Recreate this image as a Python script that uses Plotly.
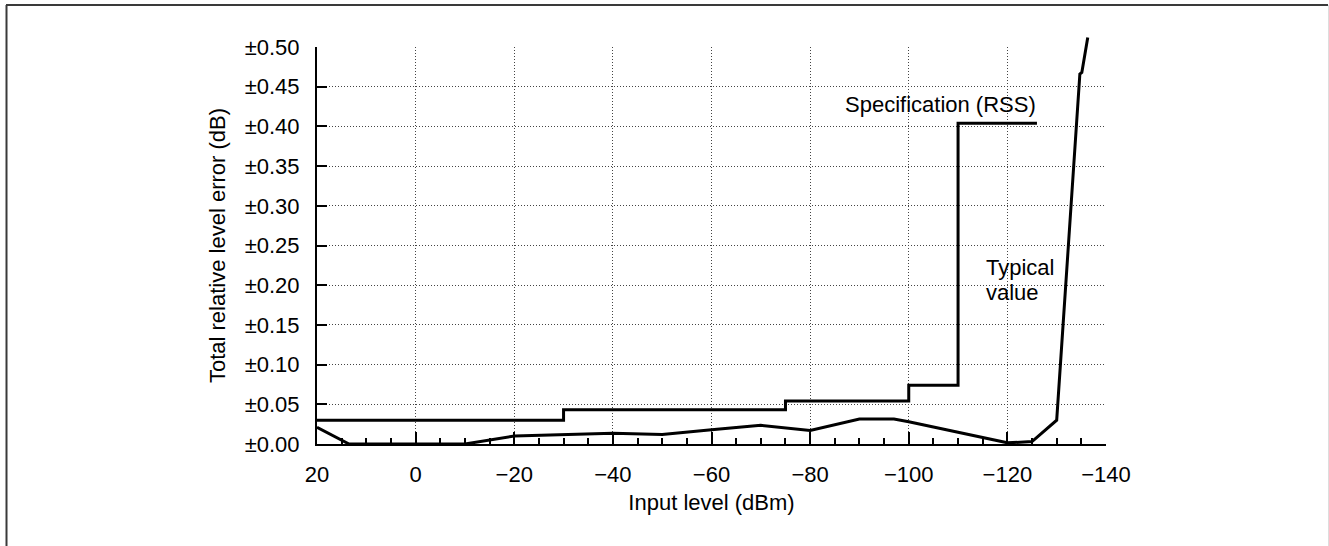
import plotly.graph_objects as go

# ---- data ----
spec_x = [20, -30, -75, -100, -110, -126]
spec_y = [0.030, 0.043, 0.054, 0.074, 0.404, 0.404]

typ_x = [20, 13.5, -10, -20, -40, -50, -60, -70, -80, -90, -97, -100, -120, -125, -130, -134.7, -135.1, -136.3]
typ_y = [0.021, 0.0, 0.0, 0.010, 0.0135, 0.012, 0.018, 0.0235, 0.017, 0.0315, 0.0315, 0.028, 0.0015, 0.003, 0.030, 0.466, 0.468, 0.512]

x_ticks = [20, 0, -20, -40, -60, -80, -100, -120, -140]
y_ticks = [0.0, 0.05, 0.10, 0.15, 0.20, 0.25, 0.30, 0.35, 0.40, 0.45, 0.50]
y_ticktext = ["±%.2f" % v for v in y_ticks]

FONT = "Liberation Sans, Arial, sans-serif"
W, H = 1329, 546
L, R, T, B = 317, 223, 30, 102
pw, ph = W - L - R, H - T - B
PLOT_TOP = 47                        # pixel row of the 0.50 gridline
main_frac = (H - B - PLOT_TOP) / ph  # fraction of paper height used by main axes
Y_MAX = 0.5

fig = go.Figure()
fig.add_trace(go.Scatter(x=spec_x, y=spec_y, mode="lines", line=dict(color="black", width=3, shape="hv"),
                         showlegend=False, hoverinfo="skip"))
# typical curve overshoots the top of the grid, so draw it on a taller twin of the same scale
fig.add_trace(go.Scatter(x=typ_x, y=typ_y, mode="lines", line=dict(color="black", width=3),
                         xaxis="x2", yaxis="y2", showlegend=False, hoverinfo="skip"))

grid = dict(showgrid=True, gridcolor="#444", gridwidth=1, griddash="1px,2px")

def px_x(p):
    return (p - L) / pw

def px_y(p):
    return (H - B - p) / ph

fig.update_layout(
    width=W, height=H,
    margin=dict(l=L, r=R, t=T, b=B, pad=0),
    paper_bgcolor="white", plot_bgcolor="rgba(0,0,0,0)",
    font=dict(family=FONT, size=22, color="black"),
    xaxis=dict(range=[20, -140], tickvals=x_ticks, ticks="inside", ticklen=12, tickwidth=2, tickcolor="black",
               showline=True, linewidth=2, linecolor="black", zeroline=False,
               minor=dict(dtick=5, tick0=0, ticks="inside", ticklen=6, tickwidth=2, tickcolor="black", showgrid=False),
               ticklabelstandoff=10,
               title=dict(text="Input level (dBm)", standoff=8, font=dict(size=22)),
               **grid),
    yaxis=dict(range=[0, Y_MAX], domain=[0, main_frac], tickvals=y_ticks, ticktext=y_ticktext,
               ticks="inside", ticklen=10, tickwidth=2, tickcolor="black",
               showline=True, linewidth=2, linecolor="black", zeroline=False,
               ticklabelstandoff=11,
               title=dict(text="Total relative level error (dB)", standoff=13, font=dict(size=22)),
               **grid),
    xaxis2=dict(range=[20, -140], anchor="y2", visible=False, showgrid=False, zeroline=False),
    yaxis2=dict(range=[0, Y_MAX / main_frac], domain=[0, 1], anchor="x2", visible=False,
                showgrid=False, zeroline=False),
    annotations=[
        dict(x=-106.5, y=0.4276, xref="x", yref="y", text="Specification (RSS)", showarrow=False,
             xanchor="center", yanchor="middle", font=dict(size=22)),
        dict(x=-115.7, y=0.2223, xref="x", yref="y", text="Typical", showarrow=False,
             xanchor="left", yanchor="middle", font=dict(size=22), borderpad=0, borderwidth=0),
        dict(x=-115.7, y=0.1908, xref="x", yref="y", text="value", showarrow=False,
             xanchor="left", yanchor="middle", font=dict(size=22), borderpad=0, borderwidth=0),
    ],
    shapes=[
        dict(type="line", xref="paper", yref="paper", x0=px_x(6), x1=px_x(1328),
             y0=px_y(5), y1=px_y(5), line=dict(color="#3a3a3a", width=2)),
        dict(type="line", xref="paper", yref="paper", x0=px_x(6.5), x1=px_x(6.5),
             y0=px_y(5), y1=px_y(546), line=dict(color="#3a3a3a", width=2)),
        dict(type="line", xref="paper", yref="paper", x0=px_x(1328.5), x1=px_x(1328.5),
             y0=px_y(5), y1=px_y(546), line=dict(color="#dddddd", width=1)),
    ],
)

fig.write_html("out.html", config={"displayModeBar": False},
               post_script="document.body.style.margin='0px';")
